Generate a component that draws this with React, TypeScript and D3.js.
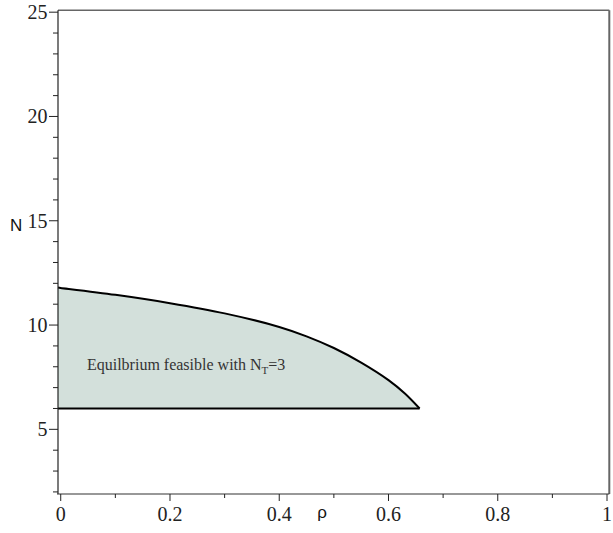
import React from "react";
import * as d3 from "d3";

const rhoValues = [0, 0.1, 0.2, 0.3, 0.4, 0.45, 0.5, 0.55, 0.6, 0.63, 0.657];
const upperN = [11.78, 11.45, 11.05, 10.56, 9.91, 9.46, 8.9, 8.2, 7.36, 6.72, 6.0];
const lowerN = 6;
const xMajorTicks = [0, 0.2, 0.4, 0.6, 0.8, 1];
const xTickLabels = ["0", "0.2", "0.4", "0.6", "0.8", "1"];
const xMinorTicks = [0.1, 0.3, 0.5, 0.7, 0.9];
const yMajorTicks = [5, 10, 15, 20, 25];
const yTickLabels = ["5", "10", "15", "20", "25"];
const regionLabel = "Equilbrium feasible with N";
const regionSub = "T";
const regionTail = "=3";

const W = 613;
const H = 533;
const left = 58;
const right = 609.3;
const top = 10.3;
const bottom = 494;

export default function App() {
  const x = d3.scaleLinear().domain([-0.005, 1.0042]).range([left, right]);
  const y = d3.scaleLinear().domain([1.9, 25.09]).range([bottom, top]);

  const yMinor = d3.range(2, 26).filter((v) => v % 5 !== 0);

  // extend the curve straight back to the left axis
  const r0 = x.domain()[0];
  const slope0 = (upperN[1] - upperN[0]) / (rhoValues[1] - rhoValues[0]);
  const n0 = upperN[0] + slope0 * (r0 - rhoValues[0]);
  const pts: [number, number][] = [[r0, n0], ...rhoValues.map((r, i) => [r, upperN[i]] as [number, number])];

  const area = d3
    .area<[number, number]>()
    .x((d) => x(d[0]))
    .y0(() => y(lowerN))
    .y1((d) => y(d[1]))
    .curve(d3.curveCatmullRom.alpha(0.5));
  const line = d3
    .line<[number, number]>()
    .x((d) => x(d[0]))
    .y((d) => y(d[1]))
    .curve(d3.curveCatmullRom.alpha(0.5));

  const endRho = rhoValues[rhoValues.length - 1];
  const serif = "'Liberation Serif', 'Times New Roman', serif";
  const sans = "'Liberation Sans', Arial, sans-serif";

  return (
    <svg width={W} height={H} style={{ position: "absolute", left: 0, top: 0, background: "#fff" }}>
      <path d={area(pts) || ""} fill="#d3e0db" stroke="none" />
      <path d={line(pts) || ""} fill="none" stroke="#000" strokeWidth={2} />
      <line x1={x(r0)} x2={x(endRho)} y1={y(lowerN)} y2={y(lowerN)} stroke="#000" strokeWidth={2} />

      <text x={x(0.048)} y={y(lowerN) - 38} fontFamily={serif} fontSize={16} fill="#333">
        {regionLabel}
        <tspan fontSize={11} dy={4}>{regionSub}</tspan>
        <tspan fontSize={16} dy={-4}>{regionTail}</tspan>
      </text>

      {/* frame */}
      <line x1={left} x2={right} y1={top} y2={top} stroke="#666" strokeWidth={1.5} />
      <line x1={right} x2={right} y1={top} y2={bottom} stroke="#666" strokeWidth={2} />
      <line x1={left} x2={left} y1={top} y2={bottom} stroke="#222" strokeWidth={1.2} />
      <line x1={left - 1} x2={right} y1={bottom} y2={bottom} stroke="#333" strokeWidth={1.2} />

      {/* y ticks */}
      {yMajorTicks.map((v, i) => (
        <g key={"ym" + v}>
          <line x1={left - 9} x2={left} y1={y(v)} y2={y(v)} stroke="#222" strokeWidth={1} />
          <text x={left - 10.5} y={y(v)} dy="0.34em" textAnchor="end" fontFamily={serif} fontSize={20} fill="#222">
            {yTickLabels[i]}
          </text>
        </g>
      ))}
      {yMinor.map((v) => (
        <line key={"yn" + v} x1={left - 5} x2={left} y1={y(v)} y2={y(v)} stroke="#222" strokeWidth={1} />
      ))}

      {/* x ticks */}
      {xMajorTicks.map((v, i) => (
        <g key={"xm" + v}>
          <line x1={x(v)} x2={x(v)} y1={bottom} y2={bottom + 7} stroke="#222" strokeWidth={1} />
          <text x={x(v)} y={521} textAnchor="middle" fontFamily={serif} fontSize={20} fill="#222">
            {xTickLabels[i]}
          </text>
        </g>
      ))}
      {xMinorTicks.map((v) => (
        <line key={"xn" + v} x1={x(v)} x2={x(v)} y1={bottom} y2={bottom + 4} stroke="#222" strokeWidth={1} />
      ))}

      {/* axis labels */}
      <text x={10} y={231} fontFamily={sans} fontSize={17} fill="#111">N</text>
      <text x={322} y={518} textAnchor="middle" fontFamily={sans} fontSize={17} fill="#111">ρ</text>
    </svg>
  );
}
